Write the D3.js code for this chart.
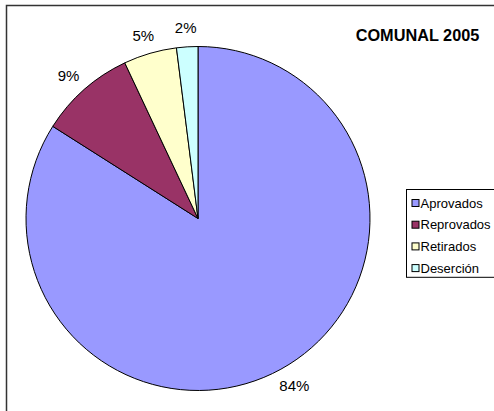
<!DOCTYPE html>
<html><head><meta charset="utf-8">
<script src="https://cdn.jsdelivr.net/npm/d3@7"></script>
<style>html,body{margin:0;padding:0;background:#fff;}svg{display:block;}</style>
</head><body>
<svg id="chart" width="494" height="411"></svg>
<script>
const categories = ["Aprovados", "Reprovados", "Retirados", "Deserción"];
const values = [84, 9, 5, 2];
const labels = ["84%", "9%", "5%", "2%"];
const colors = ["#9999FF", "#993366", "#FFFFCC", "#CCFFFF"];
const title = "COMUNAL 2005";

const svg = d3.select("#chart");
const font = "'Liberation Sans', Arial, sans-serif";

// chart border
svg.append("rect").attr("x", 6.5).attr("y", 5.5).attr("width", 520).attr("height", 430)
  .attr("fill", "#fff").attr("stroke", "#333").attr("stroke-width", 1.5);

const cx = 198, cy = 218.5, r = 172;
const pie = d3.pie().sort(null).value(d => d);
const arcs = pie(values);
const arc = d3.arc().innerRadius(0).outerRadius(r);
const g = svg.append("g").attr("transform", `translate(${cx},${cy})`);
g.selectAll("path").data(arcs).join("path")
  .attr("d", arc).attr("fill", (d, i) => colors[i])
  .attr("stroke", "#000").attr("stroke-width", 1);

// labels
const fs = 15, d0 = 13;
g.selectAll("text.lbl").data(arcs).join("text").attr("class", "lbl")
  .attr("font-family", font).attr("font-size", fs).attr("fill", "#000")
  .attr("text-anchor", "middle").attr("dominant-baseline", "central")
  .text((d, i) => labels[i])
  .each(function(d) {
    const a = (d.startAngle + d.endAngle) / 2;
    const dx = Math.sin(a), dy = -Math.cos(a);
    const w = this.getComputedTextLength(), h = fs * 0.8;
    const x = (r + d0) * dx + dx * w / 2;
    const y = (r + d0) * dy + dy * h / 2;
    d3.select(this).attr("x", x).attr("y", y);
  });

// title
svg.append("text").attr("x", 417.5).attr("y", 41).attr("text-anchor", "middle")
  .attr("font-family", font).attr("font-weight", "bold").attr("font-size", 16.3)
  .text(title);

// legend
const lx = 406.5, ly = 189.5, lw = 90, step = 21.7;
const lh = step * categories.length + 1;
svg.append("rect").attr("x", lx).attr("y", ly).attr("width", lw).attr("height", lh)
  .attr("fill", "#fff").attr("stroke", "#000").attr("stroke-width", 1);
const items = svg.selectAll("g.leg").data(categories).join("g").attr("class", "leg")
  .attr("transform", (d, i) => `translate(${lx}, ${ly + 13.5 + i * step})`);
items.append("rect").attr("x", 5.5).attr("y", -3.5).attr("width", 7).attr("height", 7)
  .attr("fill", (d, i) => colors[i]).attr("stroke", "#000").attr("stroke-width", 1);
items.append("text").attr("x", 14).attr("y", 0).attr("dominant-baseline", "central")
  .attr("font-family", font).attr("font-size", 13).text(d => d);
</script>
</body></html>
